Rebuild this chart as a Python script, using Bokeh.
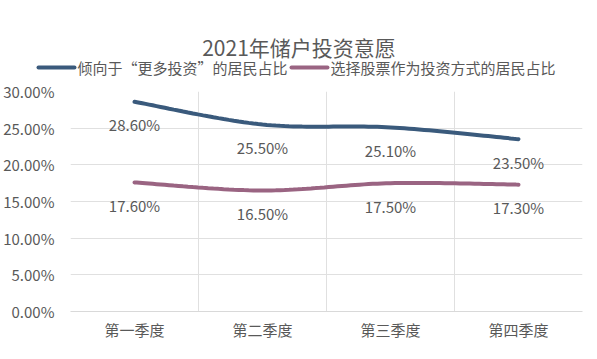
import numpy as np
from bokeh.plotting import figure
from bokeh.layouts import column
from bokeh.models import (Range1d, FixedTicker, NumeralTickFormatter, ColumnDataSource)
from bokeh.core.properties import value
from bokeh.embed import file_html
from bokeh.resources import INLINE

categories = ["第一季度", "第二季度", "第三季度", "第四季度"]
series1_name = "倾向于“更多投资”的居民占比"
series2_name = "选择股票作为投资方式的居民占比"
series1 = [0.286, 0.255, 0.251, 0.235]
series2 = [0.176, 0.165, 0.175, 0.173]
y_ticks = [0.0, 0.05, 0.10, 0.15, 0.20, 0.25, 0.30]
title_text = "2021年储户投资意愿"

FONT = "Noto Sans CJK SC"
GRAY = "#595959"
BLUE = "#3a5a7c"
PURPLE = "#9a6482"

W = 597
HEAD_H = 80
MAIN_H = 359 - HEAD_H

xs = [i + 0.5 for i in range(len(categories))]


def smooth(xv, yv, n=30):
    # Catmull-Rom (Excel-like) smoothing between the given points
    P = list(zip(xv, yv))
    P = [P[0]] + P + [P[-1]]
    ox, oy = [], []
    for i in range(1, len(P) - 2):
        p0, p1, p2, p3 = map(np.array, (P[i - 1], P[i], P[i + 1], P[i + 2]))
        c1 = p1 + (p2 - p0) / 6.0
        c2 = p2 - (p3 - p1) / 6.0
        t = np.linspace(0, 1, n)[:, None]
        pts = ((1 - t) ** 3) * p1 + 3 * ((1 - t) ** 2) * t * c1 + 3 * (1 - t) * t ** 2 * c2 + t ** 3 * p2
        ox.extend(pts[:, 0].tolist())
        oy.extend(pts[:, 1].tolist())
    return ox, oy


# ---------- header: title + legend (header uses pixel ranges) ----------
h = figure(width=W, height=HEAD_H, output_backend="svg", toolbar_location=None,
           x_range=Range1d(0, W), y_range=Range1d(HEAD_H, 0),
           x_axis_type=None, y_axis_type=None,
           min_border_left=0, min_border_right=0, min_border_top=0, min_border_bottom=0)
h.frame_align = False
h.outline_line_color = None
h.grid.visible = False
h.text(x=[W / 2], y=[46], text=[title_text], text_align="center",
       text_baseline="middle", text_font=value(FONT), text_font_size="21px",
       text_color=GRAY)

# legend: swatch + label for each series
LEG_Y = 67
SW = 36          # swatch length
GAP = 3          # swatch-to-label gap
FS = 15          # legend font size (px)
names = [series1_name, series2_name]
colors = [BLUE, PURPLE]
x0 = 38
for name, col in zip(names, colors):
    h.segment(x0=[x0], y0=[LEG_Y], x1=[x0 + SW], y1=[LEG_Y], line_color=col,
              line_width=4, line_cap="round")
    h.text(x=[x0 + SW + GAP], y=[LEG_Y], text=[name], text_align="left",
           text_baseline="middle", text_font=value(FONT), text_font_size="%dpx" % FS,
           text_color=GRAY)
    x0 = x0 + SW + GAP + FS * len(name) + 4

# ---------- main chart ----------
p = figure(width=W, height=MAIN_H, output_backend="svg", toolbar_location=None,
           x_range=Range1d(0, len(categories)), y_range=Range1d(0, 0.30),
           min_border_left=68, min_border_right=15, min_border_bottom=48,
           min_border_top=11)
p.frame_align = False
p.outline_line_color = None

p.xaxis.ticker = FixedTicker(ticks=xs)
p.xaxis.major_label_overrides = {x: c for x, c in zip(xs, categories)}
p.xaxis.major_tick_line_color = None
p.xaxis.minor_tick_line_color = None
p.xaxis.axis_line_color = "#d9d9d9"
p.xaxis.major_label_text_font = FONT
p.xaxis.major_label_text_font_size = "15px"
p.xaxis.major_label_text_color = GRAY
p.xaxis.major_label_standoff = 1

p.yaxis.ticker = FixedTicker(ticks=y_ticks)
p.yaxis.formatter = NumeralTickFormatter(format="0.00%")
p.yaxis.major_tick_line_color = None
p.yaxis.minor_tick_line_color = None
p.yaxis.axis_line_color = None
p.yaxis.major_label_text_font = FONT
p.yaxis.major_label_text_font_size = "15px"
p.yaxis.major_label_text_color = GRAY
p.yaxis.major_label_standoff = 10

p.xgrid.ticker = FixedTicker(ticks=list(range(len(categories) + 1)))
p.xgrid.grid_line_color = "#e0e0e0"
p.ygrid.grid_line_color = "#e0e0e0"

sx1, sy1 = smooth(xs, series1)
sx2, sy2 = smooth(xs, series2)
p.line(sx1, sy1, line_color=BLUE, line_width=4, line_cap="round")
p.line(sx2, sy2, line_color=PURPLE, line_width=4, line_cap="round")

for vals in (series1, series2):
    src = ColumnDataSource(dict(x=xs, y=vals, t=["%.2f%%" % (v * 100) for v in vals]))
    p.text(x="x", y="y", text="t", source=src, y_offset=23, text_align="center",
           text_baseline="middle", text_font=value(FONT), text_font_size="15px",
           text_color=GRAY)

layout = column(h, p, spacing=0)
open("out.html", "w").write(file_html(layout, INLINE))
